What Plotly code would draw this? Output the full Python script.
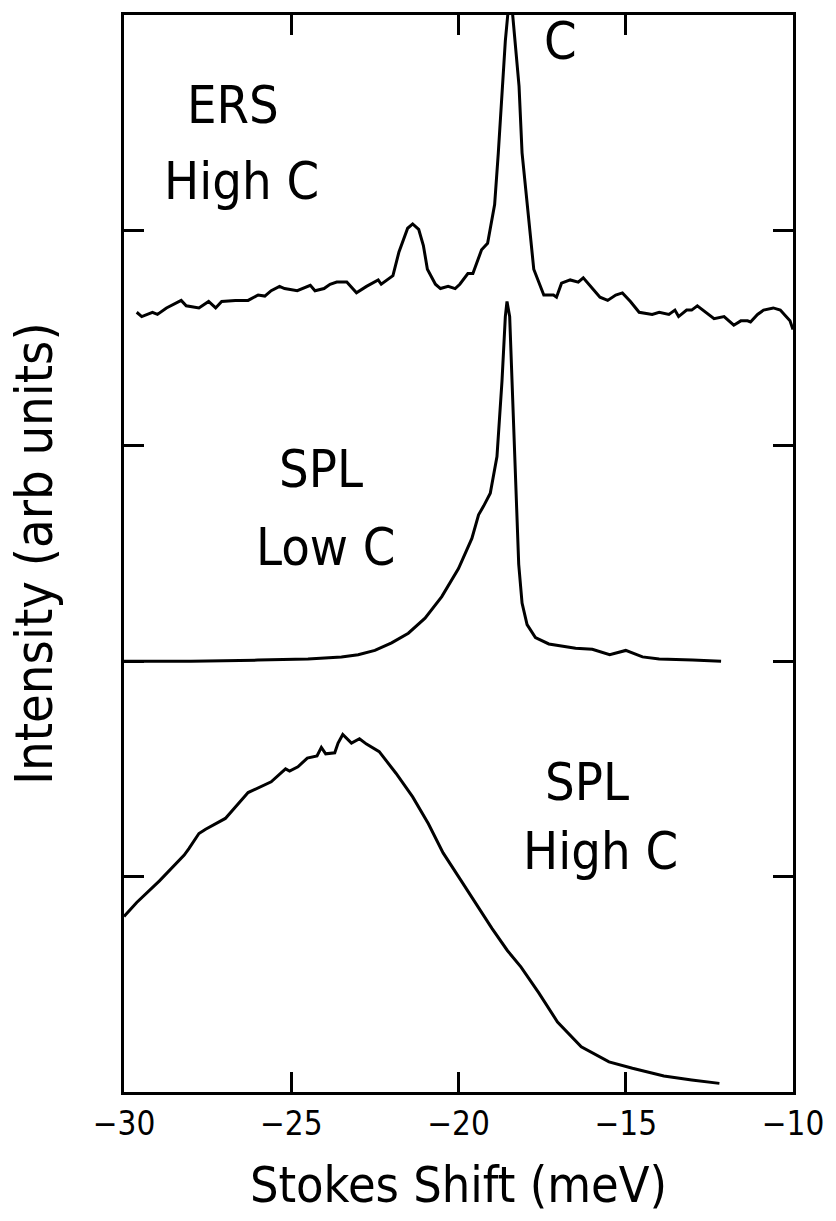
import plotly.graph_objects as go

# ---- data (x: Stokes shift in meV, y: offset intensity, arb. units) ----
ers_x = [-29.62, -29.47, -29.15, -29.0, -28.73, -28.29, -28.14, -27.76, -27.47, -27.26, -27.08,
         -26.67, -26.29, -25.99, -25.79, -25.6, -25.35, -25.2, -24.82, -24.43, -24.29, -24.02,
         -23.84, -23.64, -23.34, -23.05, -22.75, -22.4, -22.31, -21.96, -21.78, -21.52, -21.37,
         -21.19, -21.05, -20.93, -20.69, -20.54, -20.31, -20.1, -19.96, -19.72, -19.57, -19.31,
         -19.13, -18.98, -18.92, -18.81, -18.69, -18.6, -18.51, -18.45, -18.38, -18.3, -18.19,
         -18.1, -17.95, -17.8, -17.75, -17.45, -17.16, -17.07, -16.92, -16.66, -16.42, -16.27,
         -16.04, -15.77, -15.54, -15.3, -15.1, -14.86, -14.6, -14.21, -14.0, -13.71, -13.53,
         -13.42, -13.18, -13.03, -12.86, -12.36, -12.06, -11.77, -11.56, -11.36, -11.27, -11.06,
         -10.88, -10.59, -10.38, -10.09, -10.0]
ers_y = [3.62, 3.60, 3.62, 3.61, 3.64, 3.675, 3.65, 3.64, 3.67, 3.64, 3.67,
         3.675, 3.675, 3.70, 3.695, 3.72, 3.74, 3.73, 3.72, 3.745, 3.72, 3.73,
         3.75, 3.76, 3.76, 3.71, 3.74, 3.77, 3.75, 3.79, 3.90, 4.01, 4.03,
         4.005, 3.93, 3.82, 3.75, 3.73, 3.74, 3.73, 3.75, 3.80, 3.80, 3.91,
         3.94, 4.08, 4.12, 4.36, 4.65, 4.88, 5.03, 5.05, 5.0, 4.85, 4.67,
         4.36, 4.13, 3.91, 3.82, 3.70, 3.70, 3.69, 3.755, 3.77, 3.76, 3.78,
         3.74, 3.69, 3.675, 3.70, 3.71, 3.67, 3.62, 3.61, 3.62, 3.61, 3.63,
         3.60, 3.63, 3.63, 3.65, 3.59, 3.60, 3.56, 3.58, 3.58, 3.575, 3.61,
         3.63, 3.64, 3.63, 3.58, 3.54]

low_x = [-30.0, -28.0, -26.0, -24.5, -23.5, -23.0, -22.5, -22.0, -21.5, -21.0, -20.5,
         -20.0, -19.6, -19.4, -19.25, -19.05, -18.85, -18.7, -18.6, -18.55, -18.47, -18.4,
         -18.3, -18.2, -18.1, -17.95, -17.7, -17.3, -16.5, -16.0, -15.48, -15.0, -14.5,
         -14.0, -13.0, -12.15]
low_y = [2.0, 2.0, 2.005, 2.01, 2.02, 2.03, 2.05, 2.085, 2.13, 2.2, 2.3,
         2.43, 2.57, 2.68, 2.72, 2.78, 2.95, 3.3, 3.6, 3.67, 3.6, 3.3,
         2.8, 2.45, 2.27, 2.17, 2.11, 2.08, 2.06, 2.055, 2.03, 2.05, 2.02,
         2.01, 2.005, 2.0]

high_x = [-30.0, -29.62, -28.94, -28.2, -28.06, -27.76, -27.56, -26.97, -26.29, -25.6, -25.17,
          -25.05, -24.8, -24.52, -24.23, -24.1, -23.97, -23.7, -23.6, -23.46, -23.2, -22.96,
          -22.75, -22.37, -21.87, -21.37, -20.9, -20.46, -20.0, -19.5, -19.0, -18.54, -18.13,
          -17.6, -17.04, -16.33, -15.5, -14.8, -13.86, -13.03, -12.2]
high_y = [0.815, 0.88, 0.98, 1.10, 1.13, 1.20, 1.22, 1.27, 1.39, 1.44, 1.50,
          1.49, 1.51, 1.55, 1.56, 1.60, 1.57, 1.575, 1.62, 1.66, 1.62, 1.64,
          1.615, 1.58, 1.48, 1.37, 1.245, 1.11, 1.0, 0.88, 0.76, 0.657, 0.58,
          0.46, 0.325, 0.21, 0.14, 0.11, 0.074, 0.056, 0.04]

x_ticks = [-30, -25, -20, -15, -10]
x_tick_labels = ["\u221230", "\u221225", "\u221220", "\u221215", "\u221210"]
y_ticks = [1, 2, 3, 4]

labels = [
    ("C", -16.95, 4.88),
    ("ERS", -26.75, 4.58),
    ("High C", -26.5, 4.23),
    ("SPL", -24.1, 2.89),
    ("Low C", -23.95, 2.53),
    ("SPL", -16.15, 1.44),
    ("High C", -15.75, 1.12),
]

FONT = "Liberation Sans Narrow, DejaVu Sans Condensed, Arial Narrow, sans-serif"

fig = go.Figure()
for xs, ys in [(ers_x, ers_y), (low_x, low_y), (high_x, high_y)]:
    fig.add_trace(go.Scatter(x=xs, y=ys, mode="lines",
                             line=dict(color="black", width=3),
                             showlegend=False, hoverinfo="skip"))

for txt, lx, ly in labels:
    fig.add_annotation(x=lx, y=ly, xref="x", yref="y", text=txt, showarrow=False,
                       font=dict(family=FONT, size=52, color="black"),
                       xanchor="center", yanchor="middle")

fig.update_layout(
    width=836, height=1221,
    margin=dict(l=124, r=33, t=12, b=129),
    paper_bgcolor="white", plot_bgcolor="white",
    font=dict(family=FONT, color="black"),
)
fig.update_xaxes(range=[-30, -10], tickvals=x_ticks, ticktext=x_tick_labels,
                 ticks="inside", ticklen=20, tickwidth=3, tickcolor="black",
                 showline=True, linewidth=3, linecolor="black", mirror="allticks",
                 showgrid=False, zeroline=False, layer="above traces",
                 tickfont=dict(family=FONT, size=33, color="black"),
                 title=dict(text="Stokes Shift (meV)", standoff=26,
                            font=dict(family=FONT, size=50, color="black")))
fig.update_yaxes(range=[0, 5], tickvals=y_ticks, showticklabels=False,
                 ticks="inside", ticklen=20, tickwidth=3, tickcolor="black",
                 showline=True, linewidth=3, linecolor="black", mirror="allticks",
                 showgrid=False, zeroline=False, layer="above traces",
                 title=dict(text="Intensity (arb units)", standoff=52,
                            font=dict(family=FONT, size=52, color="black")))

fig.write_html("out.html")
